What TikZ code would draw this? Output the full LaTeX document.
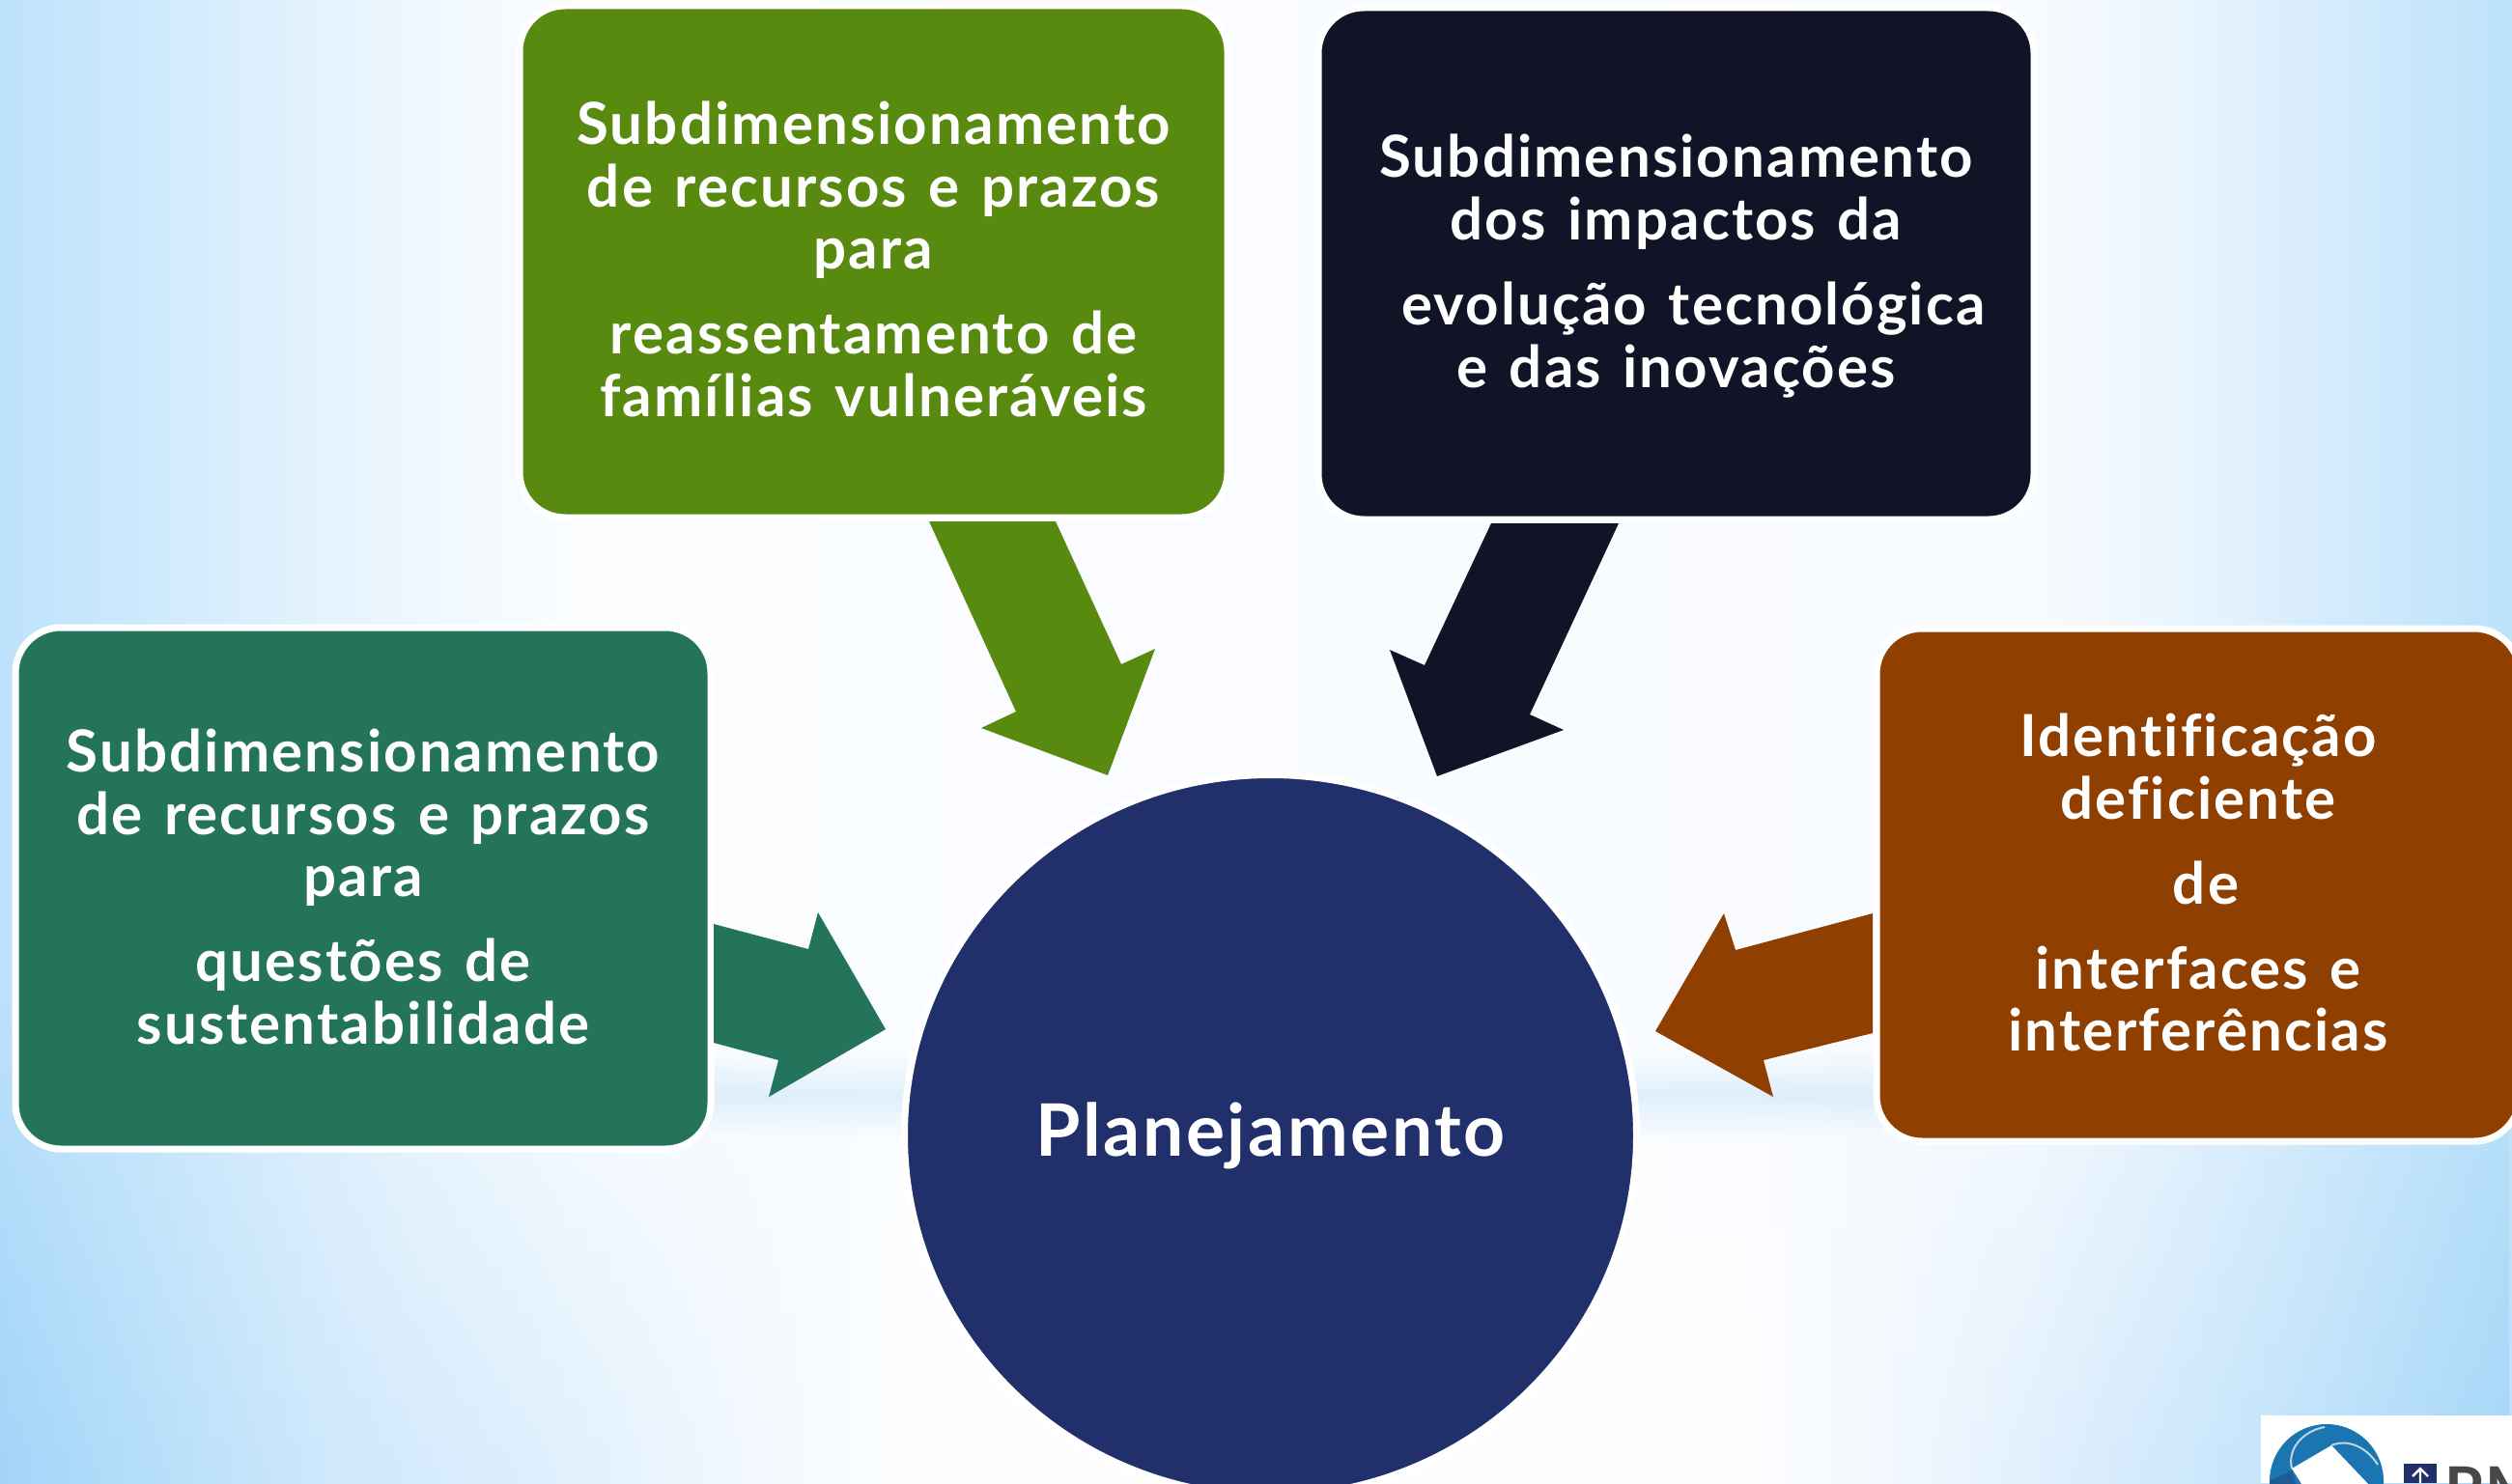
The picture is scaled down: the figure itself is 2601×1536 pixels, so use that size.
\documentclass[tikz,border=0pt]{standalone}
\usepackage{fontspec}
\setmainfont{Lato}[LetterSpace=3.5,WordSpace=1.35,Ligatures=CommonOff]
\usetikzlibrary{fadings,shapes.geometric}
\definecolor{cgreen}{HTML}{588A10}
\definecolor{cnavy}{HTML}{101426}
\definecolor{cteal}{HTML}{24735B}
\definecolor{cbrown}{HTML}{8F3F00}
\definecolor{ccirc}{HTML}{212F6B}
\definecolor{logoD}{HTML}{1D5A96}
\definecolor{logoL}{HTML}{1A75B0}
\definecolor{band}{HTML}{CFE6FA}
\definecolor{bgA}{HTML}{BEE2FB}\definecolor{bgB}{HTML}{CBE8FD}\definecolor{bgC}{HTML}{DEF0FD}\definecolor{bgD}{HTML}{F0F8FE}\definecolor{bgE}{HTML}{FBFDFF}
\definecolor{bgF}{HTML}{F8FBFF}\definecolor{bgG}{HTML}{EAF5FE}\definecolor{bgH}{HTML}{D7ECFC}\definecolor{bgI}{HTML}{C6E6FC}\definecolor{bgJ}{HTML}{BDE2FA}
\definecolor{dkA}{HTML}{A2D4F8}\definecolor{dkB}{HTML}{B5DEFA}\definecolor{dkC}{HTML}{CFE8FC}\definecolor{dkD}{HTML}{DDEFFD}\definecolor{dkE}{HTML}{EFF7FE}
\definecolor{dkF}{HTML}{EEF6FE}\definecolor{dkG}{HTML}{D6EBFC}\definecolor{dkH}{HTML}{BFE2FB}\definecolor{dkI}{HTML}{A6D7F8}
% positions: 25bp + x/2601*50bp (TikZ shows the middle half of a shading)
\pgfdeclarehorizontalshading{bgtop}{100bp}{color(0bp)=(bgA); color(25bp)=(bgA); color(27.5bp)=(bgB); color(30.4bp)=(bgC); color(33.6bp)=(bgD); color(36.5bp)=(bgE); color(65.4bp)=(bgF); color(68.3bp)=(bgG); color(71.1bp)=(bgH); color(73.4bp)=(bgI); color(75bp)=(bgJ); color(100bp)=(bgJ)}
\pgfdeclarehorizontalshading{bgbot}{100bp}{color(0bp)=(dkA); color(25bp)=(dkA); color(27.9bp)=(dkB); color(31.7bp)=(dkC); color(35.6bp)=(dkD); color(39.4bp)=(dkE); color(43.3bp)=(white); color(59.6bp)=(white); color(63.4bp)=(dkF); color(67.3bp)=(dkG); color(71.1bp)=(dkH); color(75bp)=(dkI); color(100bp)=(dkI)}
\tikzfading[name=fadeup,top color=transparent!100,bottom color=transparent!0]
\tikzfading[name=fadedn,top color=transparent!0,bottom color=transparent!100]
\tikzset{
 box/.style={rectangle,rounded corners=23.5pt,draw=white,line width=3.5pt,inner sep=0pt},
 boxtext/.style={text=white,inner sep=0pt,align=center,font=\fontsize{30}{32.4}\selectfont\bfseries},
 blockarrow/.style={line width=0pt},
 logotext/.style={text=black!72,inner sep=0pt,font=\fontsize{32}{32}\selectfont\bfseries,anchor=base west}
}
\newcommand{\pgap}{\\[11.6pt]}
\begin{document}
\begin{tikzpicture}[x=0.5pt,y=-0.5pt]
\useasboundingbox (0,0) rectangle (2601,1536);
\clip (0,0) rectangle (2601,1536);
% background
\shade[shading=bgtop] (0,0) rectangle (2601,1536);
\shade[shading=bgbot,path fading=fadeup] (0,1000) rectangle (2601,1536);
\fill[band,path fading=fadeup,opacity=.6] (730,1090) rectangle (1950,1135);
\fill[band,path fading=fadedn,opacity=.6] (730,1135) rectangle (1950,1178);
% circle
\node[ellipse,fill=ccirc,draw=white,line width=3.5pt,minimum width=379pt,minimum height=373.5pt,inner sep=0pt,text=white,font=\fontsize{37.5}{44}\selectfont\bfseries] (plan) at (1315.5,1176) {Planejamento};
% boxes
\node[box,fill=cgreen,minimum width=366.5pt,minimum height=265pt] (a) at (904.5,271) {};
\node[boxtext] (ta) at (904.5,268.5) {Subdimensionamento\\de recursos e prazos\\para\pgap reassentamento de\\famílias vulneráveis};
\node[box,fill=cnavy,minimum width=370.5pt,minimum height=265pt] (b) at (1735.5,273) {};
\node[boxtext] (tb) at (1735.5,275.5) {Subdimensionamento\\dos impactos da\pgap\hspace*{18pt}evolução tecnológica\\e das inovações};
\node[box,fill=cteal,minimum width=360pt,minimum height=270pt] (c) at (376,920) {};
\node[boxtext] (tc) at (376,918.5) {Subdimensionamento\\de recursos e prazos\\para\pgap questões de\\sustentabilidade};
\node[box,fill=cbrown,minimum width=333pt,minimum height=265.5pt] (d) at (2276,916.5) {};
\node[boxtext] (td) at (2276,914) {Identificação\\deficiente\pgap\hspace*{8pt}de\pgap interfaces e\\interferências};
% block arrows
\fill[cgreen,blockarrow] (962,540)--(1093,540)--(1161,688)--(1196,672)--(1147,803)--(1016,754)--(1052,737)--cycle;
\fill[cnavy,blockarrow] (1544,542)--(1676,542)--(1584,740)--(1619,756)--(1488,804)--(1439,673)--(1475,689)--cycle;
\fill[cteal,blockarrow] (739,957)--(837,983)--(847,945)--(917,1066)--(796,1136)--(806,1098)--(739,1080)--cycle;
\fill[cbrown,blockarrow] (1939,946)--(1797,984)--(1785,946)--(1714,1068)--(1836,1136)--(1826,1098)--(1939,1070)--cycle;
% logo
\fill[white] (2341,1466) rectangle (2601,1536);
\fill[logoL] (2409,1534) circle[radius=59];
\fill[logoD] (2409,1534) ++(180:59) arc[start angle=180,end angle=105,radius=59] -- (2373,1523) -- cycle;
\fill[white] (2414,1497)--(2373,1521)--(2385,1540)--(2455,1540)--cycle;
\draw[white!70!logoL,line width=1pt] (2373,1521) .. controls (2368,1500) and (2385,1482) .. (2407,1478);
\draw[white!70!logoL,line width=1pt] (2414,1497) .. controls (2430,1490) and (2450,1498) .. (2462,1517);
\fill[ccirc] (2489,1516) rectangle (2523,1536);
\draw[white,line width=1.2pt] (2506,1536)--(2506,1522) (2498,1529)--(2506,1521)--(2514,1529);
\node[logotext] (logo) at (2531,1565) {PM};
\end{tikzpicture}
\end{document}
